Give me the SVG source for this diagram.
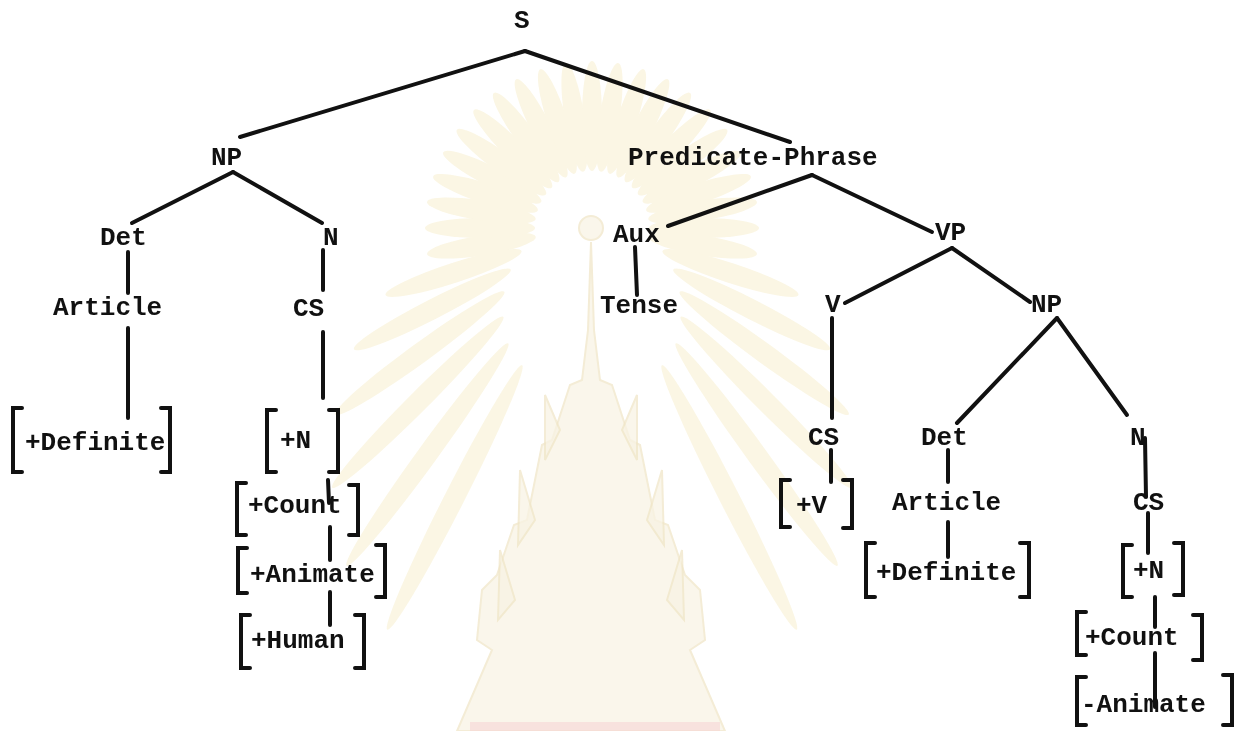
<svg xmlns="http://www.w3.org/2000/svg" xmlns:xlink="http://www.w3.org/1999/xlink" width="1249" height="731" viewBox="0 0 1249 731">
<style>
  .t{font-family:"Liberation Mono","DejaVu Sans Mono",monospace;font-size:26px;font-weight:bold;fill:#111}
  .c{stroke:#111;stroke-width:4;stroke-linecap:round;fill:none}
  .b{stroke:#111;stroke-width:4;stroke-linecap:round;stroke-linejoin:miter;fill:none}
  .ray{fill:#f8f0d2;opacity:0.6}
  .pag{fill:#f8f3e4;stroke:#f0e6c8;stroke-width:2;opacity:0.75}
</style>
<defs>
  <ellipse id="ray" cx="0" cy="-112" rx="10" ry="55"/>
</defs>
<rect width="1249" height="731" fill="#ffffff"/>
<g id="watermark">
  <g transform="translate(592,228)" class="ray">
    <use xlink:href="#ray" transform="rotate(-99)"/>
    <use xlink:href="#ray" transform="rotate(-90)"/>
    <use xlink:href="#ray" transform="rotate(-81)"/>
    <use xlink:href="#ray" transform="rotate(-72)"/>
    <use xlink:href="#ray" transform="rotate(-63)"/>
    <use xlink:href="#ray" transform="rotate(-54)"/>
    <use xlink:href="#ray" transform="rotate(-45)"/>
    <use xlink:href="#ray" transform="rotate(-36)"/>
    <use xlink:href="#ray" transform="rotate(-27)"/>
    <use xlink:href="#ray" transform="rotate(-18)"/>
    <use xlink:href="#ray" transform="rotate(-9)"/>
    <use xlink:href="#ray" transform="rotate(0)"/>
    <use xlink:href="#ray" transform="rotate(9)"/>
    <use xlink:href="#ray" transform="rotate(18)"/>
    <use xlink:href="#ray" transform="rotate(27)"/>
    <use xlink:href="#ray" transform="rotate(36)"/>
    <use xlink:href="#ray" transform="rotate(45)"/>
    <use xlink:href="#ray" transform="rotate(54)"/>
    <use xlink:href="#ray" transform="rotate(63)"/>
    <use xlink:href="#ray" transform="rotate(72)"/>
    <use xlink:href="#ray" transform="rotate(81)"/>
    <use xlink:href="#ray" transform="rotate(90)"/>
    <use xlink:href="#ray" transform="rotate(99)"/>
    <use xlink:href="#ray" transform="rotate(108) scale(1,1.3)"/>
    <use xlink:href="#ray" transform="rotate(117) scale(1,1.6)"/>
    <use xlink:href="#ray" transform="rotate(126) scale(1,1.9)"/>
    <use xlink:href="#ray" transform="rotate(135) scale(1,2.2)"/>
    <use xlink:href="#ray" transform="rotate(144) scale(1,2.5)"/>
    <use xlink:href="#ray" transform="rotate(153) scale(1,2.7)"/>
    <use xlink:href="#ray" transform="rotate(-108) scale(1,1.3)"/>
    <use xlink:href="#ray" transform="rotate(-117) scale(1,1.6)"/>
    <use xlink:href="#ray" transform="rotate(-126) scale(1,1.9)"/>
    <use xlink:href="#ray" transform="rotate(-135) scale(1,2.2)"/>
    <use xlink:href="#ray" transform="rotate(-144) scale(1,2.5)"/>
    <use xlink:href="#ray" transform="rotate(-153) scale(1,2.7)"/>
  </g>
  <circle cx="591" cy="228" r="12" class="pag"/>
  <path class="pag" d="M591,242 L594,330 L600,380 L612,385 L630,440 L640,445 L655,520 L668,525 L685,575 L700,590 L705,640 L690,650 L725,731 L457,731 L492,650 L477,640 L482,590 L497,575 L514,525 L527,520 L542,445 L552,440 L570,385 L582,380 L588,330 Z"/>
  <path class="pag" d="M545,395 L560,430 L545,460 Z M637,395 L622,430 L637,460 Z M520,470 L535,520 L518,545 Z M662,470 L647,520 L664,545 Z M500,550 L515,600 L498,620 Z M682,550 L667,600 L684,620 Z"/>
  <rect x="470" y="722" width="250" height="9" fill="#f6d3d6" opacity="0.6"/>
</g>
<g id="connectors">
  <line class="c" x1="525" y1="51" x2="240" y2="137"/>
  <line class="c" x1="525" y1="51" x2="790" y2="142"/>
  <line class="c" x1="233" y1="172" x2="132" y2="223"/>
  <line class="c" x1="233" y1="172" x2="322" y2="223"/>
  <line class="c" x1="128" y1="252" x2="128" y2="293"/>
  <line class="c" x1="323" y1="250" x2="323" y2="290"/>
  <line class="c" x1="128" y1="328" x2="128" y2="418"/>
  <line class="c" x1="323" y1="332" x2="323" y2="398"/>
  <line class="c" x1="328" y1="480" x2="329" y2="503"/>
  <line class="c" x1="330" y1="527" x2="330" y2="560"/>
  <line class="c" x1="330" y1="592" x2="330" y2="625"/>
  <line class="c" x1="812" y1="175" x2="668" y2="226"/>
  <line class="c" x1="812" y1="175" x2="932" y2="232"/>
  <line class="c" x1="635" y1="247" x2="637" y2="295"/>
  <line class="c" x1="952" y1="248" x2="845" y2="303"/>
  <line class="c" x1="952" y1="248" x2="1030" y2="302"/>
  <line class="c" x1="832" y1="318" x2="832" y2="418"/>
  <line class="c" x1="831" y1="450" x2="831" y2="482"/>
  <line class="c" x1="1057" y1="318" x2="957" y2="423"/>
  <line class="c" x1="1057" y1="318" x2="1127" y2="415"/>
  <line class="c" x1="948" y1="450" x2="948" y2="482"/>
  <line class="c" x1="948" y1="522" x2="948" y2="557"/>
  <line class="c" x1="1145" y1="438" x2="1146" y2="497"/>
  <line class="c" x1="1148" y1="513" x2="1148" y2="553"/>
  <line class="c" x1="1155" y1="597" x2="1155" y2="627"/>
  <line class="c" x1="1155" y1="653" x2="1155" y2="707"/>
</g>
<g id="n-S"><text class="t" x="514" y="28">S</text></g>
<g id="n-NP1"><text class="t" x="211" y="165">NP</text></g>
<g id="n-Det1"><text class="t" x="100" y="245">Det</text></g>
<g id="n-N1"><text class="t" x="323" y="245">N</text></g>
<g id="n-Article1"><text class="t" x="53" y="315">Article</text></g>
<g id="n-CS1"><text class="t" x="293" y="316">CS</text></g>
<g id="n-Definite1">
  <path class="b" d="M22,408 H13 V472 H22 M161,408 H170 V472 H161"/>
  <text class="t" x="25" y="450">+Definite</text>
</g>
<g id="n-N1f">
  <path class="b" d="M276,410 H267 V472 H276 M329,410 H338 V472 H329"/>
  <text class="t" x="280" y="448">+N</text>
</g>
<g id="n-Count1">
  <path class="b" d="M246,483 H237 V535 H246 M349,485 H358 V535 H349"/>
  <text class="t" x="248" y="513">+Count</text>
</g>
<g id="n-Animate1">
  <path class="b" d="M247,548 H238 V593 H247 M376,545 H385 V597 H376"/>
  <text class="t" x="250" y="582">+Animate</text>
</g>
<g id="n-Human1">
  <path class="b" d="M250,615 H241 V668 H250 M355,615 H364 V668 H355"/>
  <text class="t" x="251" y="648">+Human</text>
</g>
<g id="n-PP"><text class="t" x="628" y="165">Predicate-Phrase</text></g>
<g id="n-Aux"><text class="t" x="613" y="242">Aux</text></g>
<g id="n-Tense"><text class="t" x="600" y="313">Tense</text></g>
<g id="n-VP"><text class="t" x="935" y="240">VP</text></g>
<g id="n-V"><text class="t" x="825" y="312">V</text></g>
<g id="n-NP2"><text class="t" x="1031" y="312">NP</text></g>
<g id="n-CS2"><text class="t" x="808" y="445">CS</text></g>
<g id="n-V2f">
  <path class="b" d="M790,480 H781 V527 H790 M843,480 H852 V528 H843"/>
  <text class="t" x="796" y="513">+V</text>
</g>
<g id="n-Det2"><text class="t" x="921" y="445">Det</text></g>
<g id="n-N2"><text class="t" x="1130" y="445">N</text></g>
<g id="n-Article2"><text class="t" x="892" y="510">Article</text></g>
<g id="n-Definite2">
  <path class="b" d="M875,543 H866 V597 H875 M1020,543 H1029 V597 H1020"/>
  <text class="t" x="876" y="580">+Definite</text>
</g>
<g id="n-CS3"><text class="t" x="1133" y="510">CS</text></g>
<g id="n-N3f">
  <path class="b" d="M1132,545 H1123 V597 H1132 M1174,543 H1183 V595 H1174"/>
  <text class="t" x="1133" y="578">+N</text>
</g>
<g id="n-Count2">
  <path class="b" d="M1086,612 H1077 V655 H1086 M1193,615 H1202 V660 H1193"/>
  <text class="t" x="1085" y="645">+Count</text>
</g>
<g id="n-Animate2">
  <path class="b" d="M1086,677 H1077 V725 H1086 M1223,675 H1232 V725 H1223"/>
  <text class="t" x="1081" y="712">-Animate</text>
</g>
</svg>
